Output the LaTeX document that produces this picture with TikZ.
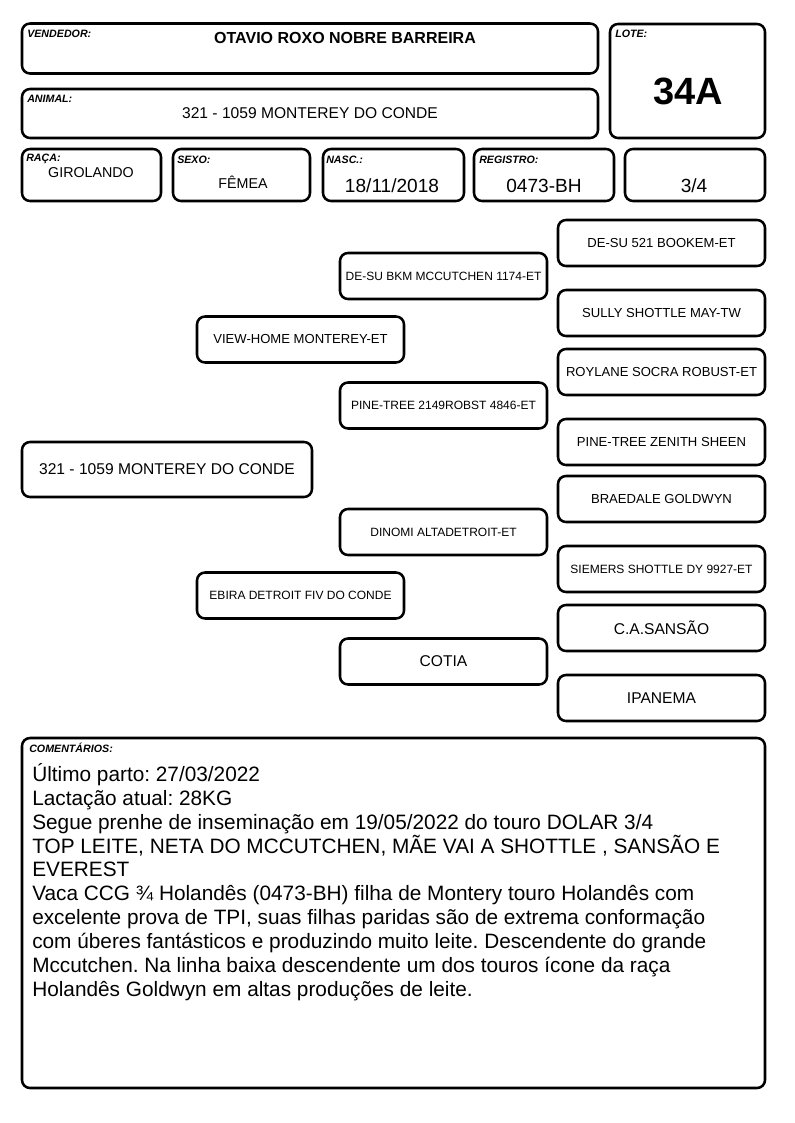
\documentclass[tikz,border=0pt]{standalone}
\usepackage{fontspec}
\setmainfont{Liberation Sans}
\frenchspacing

\begin{document}
\begin{tikzpicture}
	[x=0.75pt, y=-0.75pt,
	every node/.style={inner sep=0pt},
	caixa/.style 2 args={draw, line width=1.9pt, rounded corners=6pt,
		minimum width=#1*0.75pt, minimum height=#2*0.75pt},
	gen/.style={caixa={207}{46}},
	rotulo/.style={anchor=base west, font=\bfseries\itshape\fontsize{8}{9}\selectfont},
	valor/.style={anchor=base, font=\fontsize{10.7}{12}\selectfont},
	grande/.style={anchor=base, font=\fontsize{14.3}{16}\selectfont},
	pq/.style={font=\fontsize{9}{10}\selectfont},
	md/.style={font=\fontsize{9.8}{11}\selectfont},
	gd/.style={font=\fontsize{11.7}{13}\selectfont}]
	\useasboundingbox (0,0) rectangle (794,1123);
	% cabecalho
	\node (vendedor) [caixa={576}{50}] at (310,48.5) {};
	\node (vendedor-rot) [rotulo] at (27,38) {VENDEDOR:};
	\node (vendedor-nome) [anchor=base, font=\bfseries\fontsize{12}{14}\selectfont] at (345,44) {OTAVIO ROXO NOBRE BARREIRA};
	\node (lote) [caixa={155}{114}] at (687.5,81) {};
	\node (lote-rot) [rotulo] at (615,38) {LOTE:};
	\node (lote-num) [anchor=base, font=\bfseries\fontsize{28.5}{32}\selectfont] at (688,105) {34A};
	\node (animal) [caixa={576}{49}] at (310,113.5) {};
	\node (animal-rot) [rotulo] at (27,103) {ANIMAL:};
	\node (animal-nome) [anchor=base, gd] at (310,119) {321 - 1059 MONTEREY DO CONDE};
	\node (raca) [caixa={139}{52}] at (91.5,175) {};
	\node (raca-rot) [rotulo] at (26,162) {RAÇA:};
	\node (raca-val) [valor] at (91,178) {GIROLANDO};
	\node (sexo) [caixa={137}{52}] at (241.5,175) {};
	\node (sexo-rot) [rotulo] at (177,164) {SEXO:};
	\node (sexo-val) [valor] at (243,189) {FÊMEA};
	\node (nasc) [caixa={141}{52}] at (393.5,175) {};
	\node (nasc-rot) [rotulo] at (326,164) {NASC.:};
	\node (nasc-val) [grande] at (392,193) {18/11/2018};
	\node (registro) [caixa={140}{52}] at (544,175) {};
	\node (registro-rot) [rotulo] at (479,164) {REGISTRO:};
	\node (registro-val) [grande] at (544,193) {0473-BH};
	\node (grau) [caixa={140}{52}] at (695,175) {};
	\node (grau-val) [grande] at (694,193) {3/4};
	% genealogia
	\node (filha) [caixa={290}{55}, gd] at (167,469.5) {321 - 1059 MONTEREY DO CONDE};
	\node (pai) [gen, md] at (300.5,339.5) {VIEW-HOME MONTEREY-ET};
	\node (mae) [gen, pq] at (300.5,595.5) {EBIRA DETROIT FIV DO CONDE};
	\node (avo-p1) [gen, pq] at (443.5,276) {DE-SU BKM MCCUTCHEN 1174-ET};
	\node (avo-p2) [gen, pq] at (443.5,405.5) {PINE-TREE 2149ROBST 4846-ET};
	\node (avo-m1) [gen, pq] at (443.5,532) {DINOMI ALTADETROIT-ET};
	\node (avo-m2) [gen, gd] at (443.5,661.5) {COTIA};
	\node (bis-1) [gen, md] at (661.5,243) {DE-SU 521 BOOKEM-ET};
	\node (bis-2) [gen, md] at (661.5,313) {SULLY SHOTTLE MAY-TW};
	\node (bis-3) [gen, md] at (661.5,372) {ROYLANE SOCRA ROBUST-ET};
	\node (bis-4) [gen, md] at (661.5,442) {PINE-TREE ZENITH SHEEN};
	\node (bis-5) [gen, md] at (661.5,499) {BRAEDALE GOLDWYN};
	\node (bis-6) [gen, pq] at (661.5,569) {SIEMERS SHOTTLE DY 9927-ET};
	\node (bis-7) [gen, gd] at (661.5,628) {C.A.SANSÃO};
	\node (bis-8) [gen, gd] at (661.5,698) {IPANEMA};
	% comentarios (ancorado na ultima linha)
	\node (coment) [caixa={743}{350}] at (393.5,913) {};
	\node (coment-rot) [rotulo] at (29,752) {COMENTÁRIOS:};
	\node (coment-texto) [anchor=base west, align=left, font=\fontsize{15.6}{17.9}\selectfont] at (32,996.3)
	{Último parto: 27/03/2022\\
	Lactação atual: 28KG\\
	Segue prenhe de inseminação em 19/05/2022 do touro DOLAR 3/4\\
	TOP LEITE, NETA DO MCCUTCHEN, MÃE VAI A SHOTTLE , SANSÃO E\\
	EVEREST\\
	Vaca CCG ¾ Holandês (0473-BH) filha de Montery touro Holandês com\\
	excelente prova de TPI, suas filhas paridas são de extrema conformação\\
	com úberes fantásticos e produzindo muito leite. Descendente do grande\\
	Mccutchen. Na linha baixa descendente um dos touros ícone da raça\\
	Holandês Goldwyn em altas produções de leite.};
\end{tikzpicture}
\end{document}
